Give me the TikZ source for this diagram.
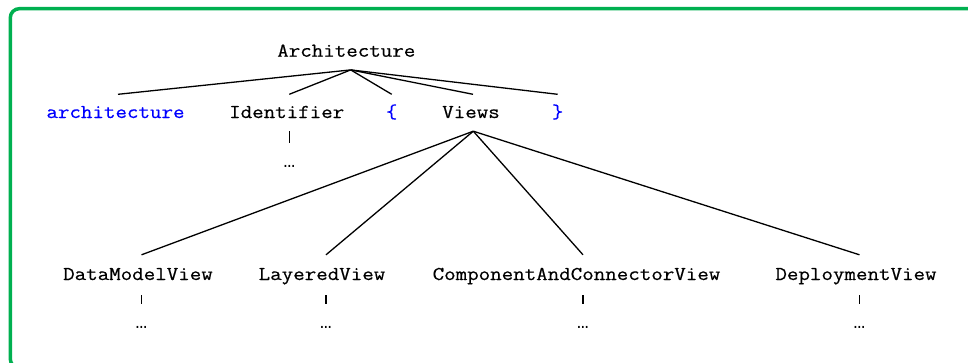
\documentclass[tikz,border=0pt]{standalone}
\usepackage{fontspec}
\newfontfamily\codefont[FakeStretch=1.14,FakeBold=0.5]{Latin Modern Mono}
\newfontfamily\dotfont{Liberation Mono}
\definecolor{framegreen}{HTML}{00B050}
\definecolor{kwblue}{HTML}{0000FF}
\tikzset{
  lbl/.style={font=\codefont\fontsize{19.6}{22}\selectfont, anchor=base,
    text height=12pt, text depth=3pt, inner xsep=0pt, inner ysep=10pt},
  kw/.style={lbl, text=kwblue},
  dotsnode/.style={font=\dotfont\fontsize{19.3}{22}\selectfont, anchor=base,
    text height=12pt, text depth=0pt, inner xsep=0pt, inner ysep=12pt},
  edge/.style={line width=1.3pt, black},
}
\begin{document}
\begin{tikzpicture}[x=1pt,y=-1pt]
\useasboundingbox (0,0) rectangle (968,362);
\begin{scope}
  \clip (0,0) rectangle (968,362);
  \draw[framegreen, line width=3.5pt, rounded corners=9pt] (10.3,8.7) rectangle (990,368);
\end{scope}

% nodes
\node[lbl] (arch) at (346.3,56.7) {Architecture};
\node[kw] (kwarch) at (115.5,118) {architecture};
\node[lbl] (ident) at (286.7,118) {Identifier};
\node[kw] (lbr) at (391.7,118) {\{};
\node[lbl] (views) at (471,118) {Views};
\node[kw] (rbr) at (557.7,118) {\}};
\node[dotsnode] (identd) at (289.3,167) {…};

\node[lbl] (dmv) at (138,280) {DataModelView};
\node[lbl] (lv) at (322,280) {LayeredView};
\node[lbl] (cacv) at (576.5,280) {ComponentAndConnectorView};
\node[lbl] (dv) at (856,280) {DeploymentView};

\node[dotsnode] (dmvd) at (141.3,328) {…};
\node[dotsnode] (lvd) at (326,328) {…};
\node[dotsnode] (cacvd) at (583,328) {…};
\node[dotsnode] (dvd) at (859.5,328) {…};

% connectors from Architecture
\draw[edge] ([xshift=4.4pt]arch.south) -- ([xshift=2.5pt,yshift=1.5pt]kwarch.north);
\draw[edge] ([xshift=4.4pt]arch.south) -- ([xshift=2.6pt,yshift=1.5pt]ident.north);
\draw[edge] ([xshift=4.4pt]arch.south) -- ([yshift=1.5pt]lbr.north);
\draw[edge] ([xshift=4.4pt]arch.south) -- ([xshift=2pt,yshift=1.5pt]views.north);
\draw[edge] ([xshift=4.4pt]arch.south) -- ([yshift=1.5pt]rbr.north);

% Identifier bar
\draw[edge] ([xshift=2.6pt]ident.south) -- (identd.north);

% connectors from Views
\draw[edge] ([xshift=2.3pt]views.south) -- ([xshift=3.5pt,yshift=3pt]dmv.north);
\draw[edge] ([xshift=2.3pt]views.south) -- ([xshift=4pt,yshift=3pt]lv.north);
\draw[edge] ([xshift=2.3pt]views.south) -- ([xshift=6.5pt,yshift=3pt]cacv.north);
\draw[edge] ([xshift=2.3pt]views.south) -- ([xshift=3.5pt,yshift=3pt]dv.north);

% bars to dots
\draw[edge] ([xshift=3.3pt,yshift=-2pt]dmv.south) -- (dmvd.north);
\draw[edge] ([xshift=4pt,yshift=-2pt]lv.south) -- (lvd.north);
\draw[edge] ([xshift=6.5pt,yshift=-2pt]cacv.south) -- (cacvd.north);
\draw[edge] ([xshift=3.5pt,yshift=-2pt]dv.south) -- (dvd.north);
\end{tikzpicture}
\end{document}
